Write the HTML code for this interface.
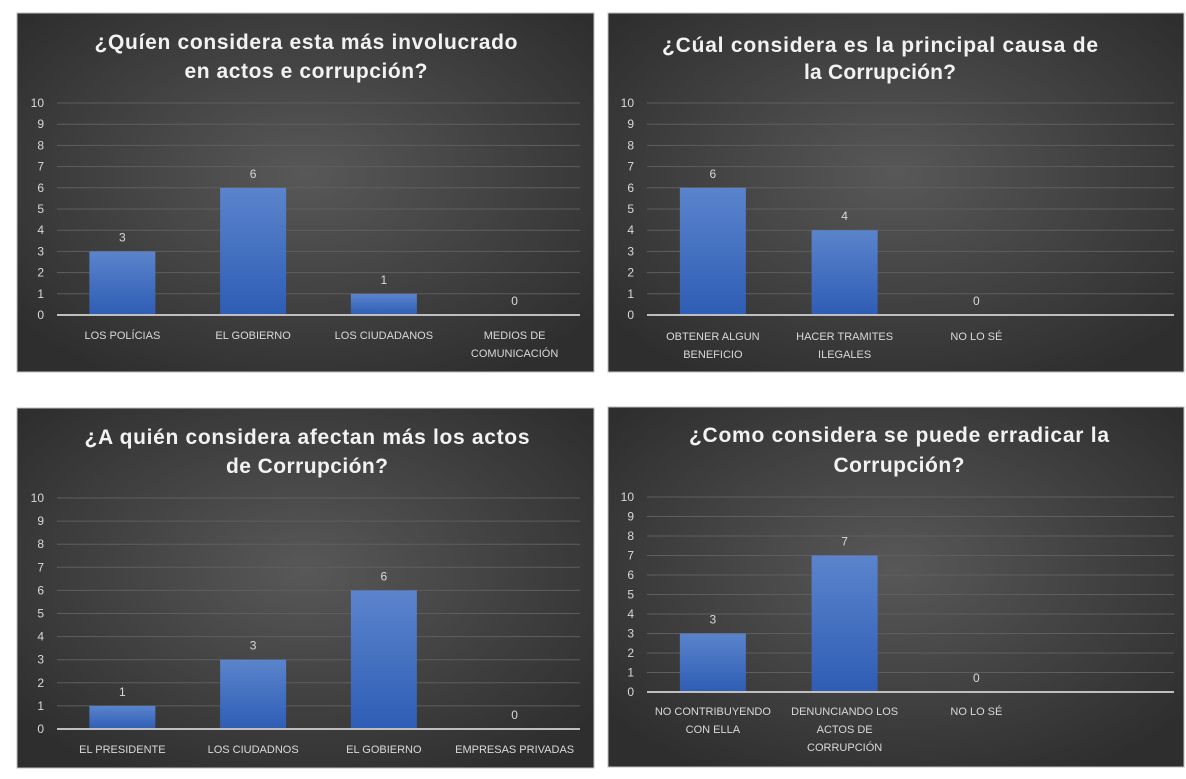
<!DOCTYPE html>
<html><head><meta charset="utf-8"><style>
html,body{margin:0;padding:0;background:#fff;}
svg{display:block;}
text{font-family:"Liberation Sans",sans-serif;}
</style></head><body>
<svg id="s" width="1186" height="779" viewBox="0 0 1186 779" xmlns="http://www.w3.org/2000/svg">
<defs>
<radialGradient id="bg" cx="50%" cy="45%" r="65%">
<stop offset="0" stop-color="#585858"/><stop offset="1" stop-color="#2e2e2e"/>
</radialGradient>
<linearGradient id="bar" x1="0" y1="0" x2="0" y2="1">
<stop offset="0" stop-color="#5b84cc"/><stop offset="1" stop-color="#2e5db5"/>
</linearGradient>
</defs>
</svg>
<script>
const s=document.getElementById('s');
let h='';
function chart(c){
  h+=`<rect x="${c.x}" y="${c.y}" width="${c.w}" height="${c.h}" fill="url(#bg)" stroke="#bdbdbd" stroke-width="1"/>`;
  c.t.forEach((t,i)=>{h+=`<text x="${c.tc}" y="${c.ty[i]+7}" fill="#f2f2f2" font-size="21" font-weight="bold" text-anchor="middle" textLength="${t[1]}" lengthAdjust="spacing">${t[0]}</text>`;});
  const u=(c.y0-c.y10)/10;
  for(let k=0;k<=10;k++){const y=c.y0-k*u;
    if(k>0)h+=`<line x1="${c.gx0}" x2="${c.gx1}" y1="${y}" y2="${y}" stroke="#5e5e5e" stroke-width="1"/>`;
    h+=`<text x="${c.lx}" y="${y+4}" fill="#d9d9d9" font-size="12" text-anchor="end">${k}</text>`;}
  const cw=(c.gx1-c.gx0)/4;
  c.v.forEach((v,i)=>{const cx=c.gx0+cw*(i+0.5);
    if(v===null)return;
    if(v>0)h+=`<rect x="${cx-33}" y="${c.y0-v*u}" width="66" height="${v*u}" fill="url(#bar)"/>`;
    h+=`<text x="${cx}" y="${c.y0-v*u-10}" fill="#d9d9d9" font-size="12" text-anchor="middle">${v}</text>`;});
  h+=`<line x1="${c.gx0}" x2="${c.gx1}" y1="${c.y0}" y2="${c.y0}" stroke="#bfbfbf" stroke-width="2"/>`;
  c.l.forEach((ls,i)=>{const cx=c.gx0+cw*(i+0.5);
    ls.forEach((t,j)=>{h+=`<text x="${cx}" y="${c.ly+4+j*18}" fill="#d9d9d9" font-size="11" text-anchor="middle">${t}</text>`;});});
}
chart({x:17,y:13,w:577,h:359,tc:306,ty:[42,71],t:[["¿Quíen considera esta más involucrado",423],["en actos e corrupción?",243]],
 y10:103,y0:315,lx:44,gx0:57,gx1:580,v:[3,6,1,0],ly:335,
 l:[["LOS POLÍCIAS"],["EL GOBIERNO"],["LOS CIUDADANOS"],["MEDIOS DE","COMUNICACIÓN"]]});
chart({x:608,y:13,w:576,h:359,tc:880,ty:[45,72],t:[["¿Cúal considera es la principal causa de",436],["la Corrupción?",152]],
 y10:103,y0:315,lx:634,gx0:647,gx1:1174,v:[6,4,0,null],ly:336,
 l:[["OBTENER ALGUN","BENEFICIO"],["HACER TRAMITES","ILEGALES"],["NO LO SÉ"],[]]});
chart({x:17,y:408,w:577,h:360,tc:307,ty:[437,466],t:[["¿A quién considera afectan más los actos",445],["de Corrupción?",162]],
 y10:498,y0:729,lx:44,gx0:57,gx1:580,v:[1,3,6,0],ly:749,
 l:[["EL PRESIDENTE"],["LOS CIUDADNOS"],["EL GOBIERNO"],["EMPRESAS PRIVADAS"]]});
chart({x:608,y:407,w:576,h:360,tc:899,ty:[435,465],t:[["¿Como considera se puede erradicar la",420],["Corrupción?",131]],
 y10:497,y0:692,lx:634,gx0:647,gx1:1174,v:[3,7,0,null],ly:711,
 l:[["NO CONTRIBUYENDO","CON ELLA"],["DENUNCIANDO LOS","ACTOS DE","CORRUPCIÓN"],["NO LO SÉ"],[]]});
s.insertAdjacentHTML('beforeend',h);
</script>
</body></html>
